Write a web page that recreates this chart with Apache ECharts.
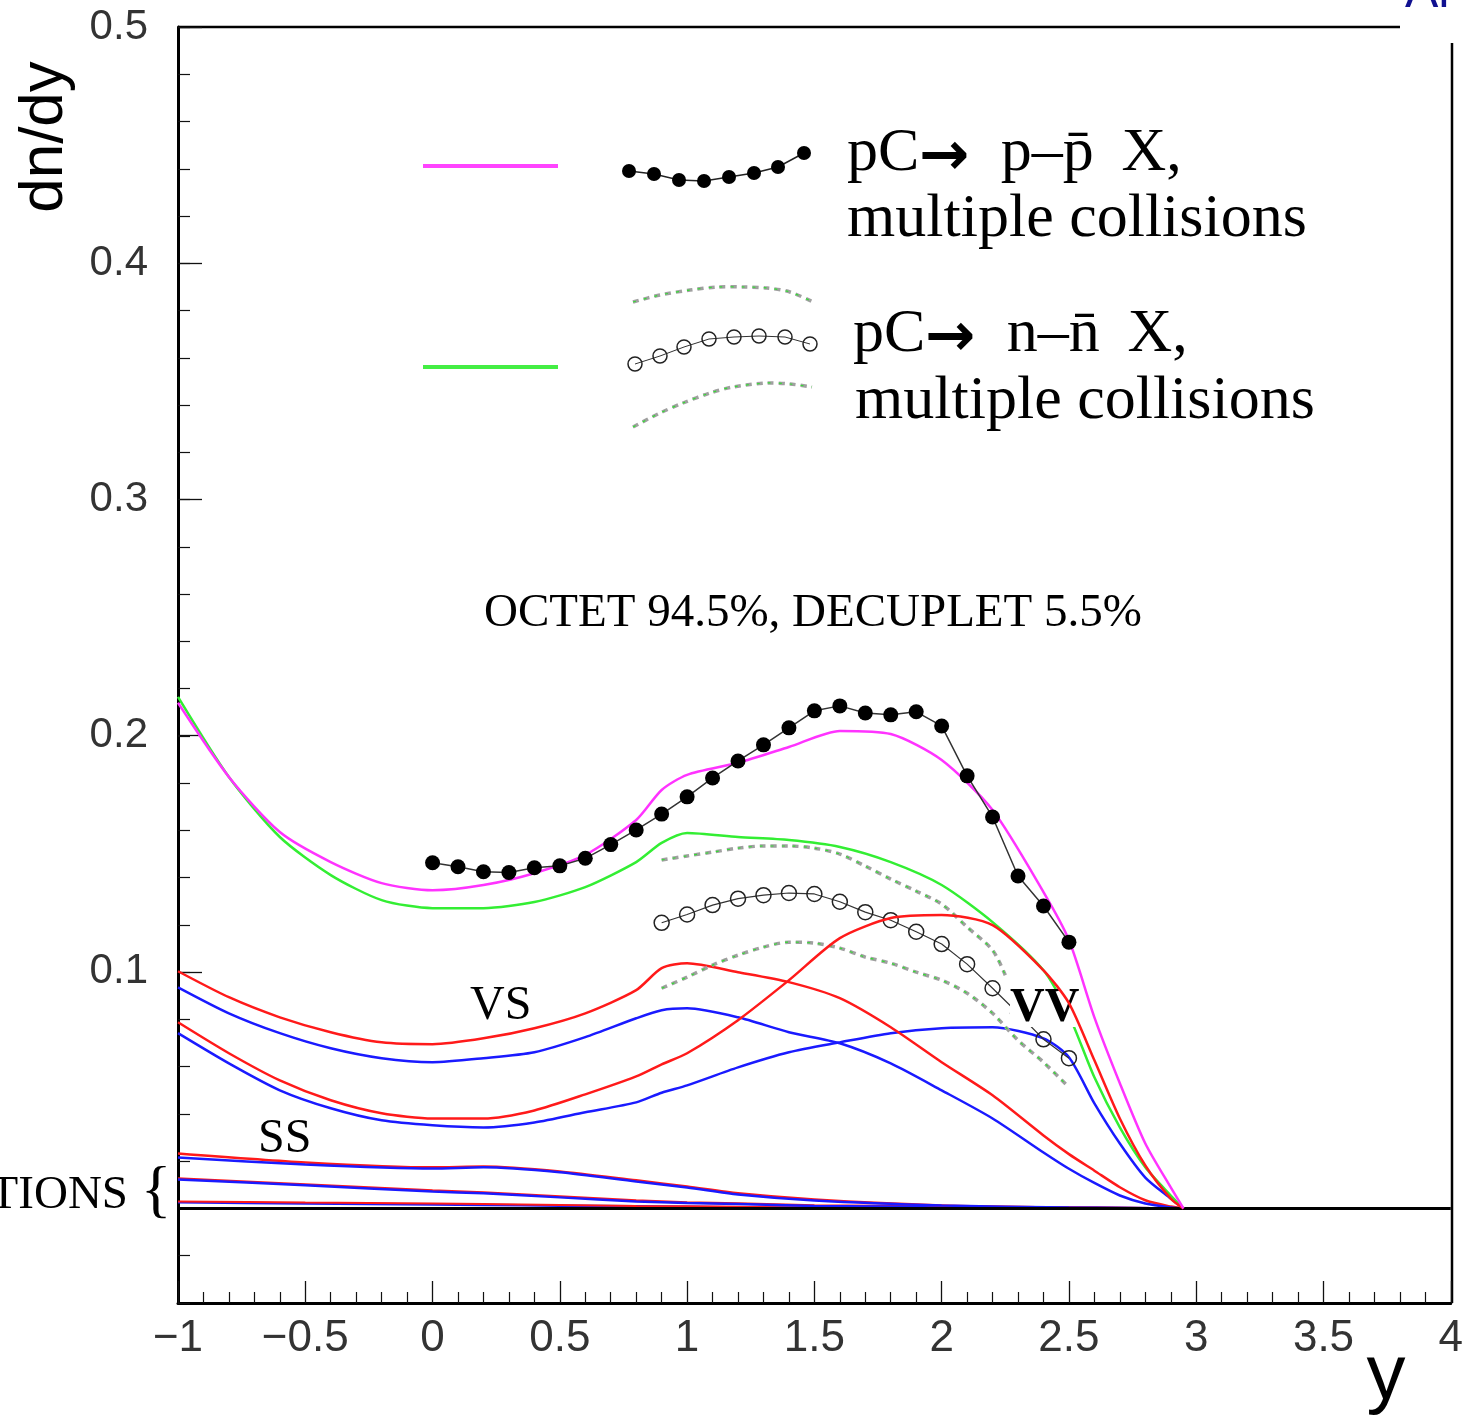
<!DOCTYPE html>
<html>
<head>
<meta charset="utf-8">
<title>dn/dy pC</title>
<script src="https://cdn.jsdelivr.net/npm/echarts@6/dist/echarts.min.js"></script>
<style>
  html, body { margin: 0; padding: 0; background: #fff; }
  #chart { width: 1466px; height: 1426px; }
</style>
</head>
<body>
<div id="chart"></div>
<script>
// model curves (rapidity grid)
const xModel = [-1, -0.8, -0.6, -0.4, -0.2, 0, 0.2, 0.4, 0.6, 0.8, 0.9, 1.0, 1.2, 1.4, 1.6, 1.8, 2.0, 2.2, 2.4, 2.5, 2.6, 2.7, 2.8, 2.9, 2.95];
// p-pbar total (magenta)
const totalP = [0.2140, 0.1826, 0.1593, 0.1466, 0.1377, 0.1347, 0.1369, 0.1419, 0.1496, 0.1644, 0.1771, 0.1835, 0.1886, 0.1953, 0.2021, 0.2008, 0.1898, 0.1686, 0.1339, 0.1136, 0.0809, 0.0530, 0.0275, 0.0089, 0];
// n-nbar total (green)
const totalN = [0.2165, 0.1826, 0.1572, 0.1411, 0.1305, 0.1271, 0.1271, 0.1297, 0.1360, 0.1466, 0.1547, 0.1589, 0.1572, 0.1559, 0.1530, 0.1466, 0.1369, 0.1212, 0.1008, 0.0818, 0.0555, 0.0343, 0.0174, 0.0055, 0];
// VS contributions
const vsRed = [0.1004, 0.0894, 0.0809, 0.0746, 0.0703, 0.0695, 0.0720, 0.0763, 0.0826, 0.0924, 0.1017, 0.1038, 0.1000, 0.0958, 0.0890, 0.0767, 0.0619, 0.0479, 0.0309, 0.0230, 0.0160, 0.0090, 0.0035, 0.0008, 0];
const vsBlue = [0.0936, 0.0826, 0.0742, 0.0678, 0.0636, 0.0619, 0.0636, 0.0661, 0.0725, 0.0805, 0.0839, 0.0847, 0.0809, 0.0746, 0.0699, 0.0614, 0.0500, 0.0381, 0.0237, 0.0168, 0.0108, 0.0055, 0.0021, 0.0004, 0];
// VV contributions
const vvRed = [0.0788, 0.0657, 0.0542, 0.0458, 0.0403, 0.0381, 0.0381, 0.0415, 0.0483, 0.0559, 0.0610, 0.0657, 0.0797, 0.0966, 0.1144, 0.1229, 0.1242, 0.1199, 0.1008, 0.0869, 0.0627, 0.0381, 0.0182, 0.0042, 0];
const vvBlue = [0.0742, 0.0614, 0.0500, 0.0424, 0.0373, 0.0352, 0.0343, 0.0364, 0.0407, 0.0449, 0.0490, 0.0521, 0.0597, 0.0661, 0.0703, 0.0742, 0.0763, 0.0767, 0.0720, 0.0640, 0.0445, 0.0275, 0.0131, 0.0042, 0];

// SS contributions (small, near zero)
const xSS = [-1, -0.5, 0, 0.2, 0.5, 0.8, 1.0, 1.2, 1.5, 2.0, 2.5, 2.95];
const ss1Red = [0.0233, 0.0195, 0.0174, 0.0178, 0.0157, 0.0119, 0.0093, 0.0064, 0.0038, 0.0013, 0.0004, 0];
const ss1Blue = [0.0216, 0.0186, 0.0169, 0.0174, 0.0153, 0.0114, 0.0089, 0.0059, 0.0034, 0.0013, 0.0004, 0];
const ss2Red = [0.0127, 0.0102, 0.0076, 0.0068, 0.0051, 0.0034, 0.0025, 0.0021, 0.0013, 0.0008, 0.0004, 0];
const ss2Blue = [0.0123, 0.0098, 0.0072, 0.0064, 0.0047, 0.0030, 0.0023, 0.0019, 0.0011, 0.0006, 0.0003, 0];
const ss3Red = [0.0030, 0.0025, 0.0021, 0.0019, 0.0015, 0.0011, 0.0009, 0.0007, 0.0004, 0.0002, 0.0001, 0];
const ss3Blue = [0.0026, 0.0021, 0.0017, 0.0015, 0.0012, 0.0009, 0.0007, 0.0005, 0.0003, 0.0002, 0.0001, 0];

// data points: p-pbar (filled)
const xPbar = [0, 0.1, 0.2, 0.3, 0.4, 0.5, 0.6, 0.7, 0.8, 0.9, 1.0, 1.1, 1.2, 1.3, 1.4, 1.5, 1.6, 1.7, 1.8, 1.9, 2.0, 2.1, 2.2, 2.3, 2.4, 2.5];
const pbar = [0.1463, 0.1446, 0.1425, 0.1422, 0.1442, 0.1450, 0.1482, 0.1540, 0.1602, 0.1669, 0.1742, 0.1822, 0.1894, 0.1962, 0.2034, 0.2106, 0.2127, 0.2097, 0.2089, 0.2102, 0.2042, 0.1831, 0.1657, 0.1407, 0.1280, 0.1127];
// data points: n-nbar (open) and its band
const xNbar = [0.9, 1.0, 1.1, 1.2, 1.3, 1.4, 1.5, 1.6, 1.7, 1.8, 1.9, 2.0, 2.1, 2.2, 2.3, 2.4, 2.5];
const nbar = [0.1209, 0.1244, 0.1284, 0.1311, 0.1326, 0.1335, 0.1331, 0.1298, 0.1254, 0.1220, 0.1171, 0.1119, 0.1034, 0.0932, 0.0826, 0.0716, 0.0636];
const xBandHi = [0.9, 1.0, 1.1, 1.2, 1.3, 1.4, 1.5, 1.6, 1.7, 1.8, 1.9, 2.0, 2.1, 2.2, 2.25];
const nbarHi = [0.1475, 0.1492, 0.1508, 0.1525, 0.1534, 0.1534, 0.1525, 0.1500, 0.1449, 0.1394, 0.1343, 0.1288, 0.1191, 0.1093, 0.0987];
const nbarLo = [0.0932, 0.0979, 0.1030, 0.1072, 0.1106, 0.1127, 0.1123, 0.1102, 0.1064, 0.1038, 0.1000, 0.0966, 0.0911, 0.0826, 0.0712, 0.0619, 0.0513];

const xTicks = { min: -1, max: 4, step: 0.5 };
const yTicks = [0.1, 0.2, 0.3, 0.4, 0.5];

const pair = (xs, ys) => xs.map((x, i) => [x, ys[i]]);
const SERIF = '"Liberation Serif", "DejaVu Serif", serif';
const SANS = '"Liberation Sans", Arial, sans-serif';

function curve(name, xs, ys, color, width, z) {
  return {
    name: name, type: 'line', data: pair(xs, ys), smooth: 0.25,
    symbol: 'none', lineStyle: { color: color, width: width || 2.5 }, z: z || 3
  };
}

const chart = echarts.init(document.getElementById('chart'));

// legend sample glyphs (layout only)
const legDots = [[629, 171], [654, 174], [679, 180], [704, 181], [729, 177], [754, 173], [778, 167], [804, 153]];
const legCircles = [[635, 364], [660, 356], [684, 347], [709, 339], [734, 337], [759, 336], [785, 337], [810, 344]];
const legHi = [[633, 302], [660, 295], [690, 290], [717, 287], [745, 287], [767, 288], [790, 292], [813, 302]];
const legLo = [[633, 427], [660, 413], [683, 403], [710, 393], [733, 387], [767, 383], [790, 384], [812, 387]];

const graphics = [
  { type: 'line', shape: { x1: 423, y1: 166, x2: 558, y2: 166 }, style: { stroke: '#ff44ff', lineWidth: 4 } },
  { type: 'line', shape: { x1: 423, y1: 367, x2: 558, y2: 367 }, style: { stroke: '#44ee44', lineWidth: 4 } },
  { type: 'polyline', shape: { points: legDots }, style: { stroke: '#222', lineWidth: 1.5, fill: null } },
  { type: 'polyline', shape: { points: legCircles }, style: { stroke: '#333', lineWidth: 1, fill: null } },
  { type: 'polyline', shape: { points: legHi, smooth: 0.3 }, style: { stroke: '#a0a0a0', lineWidth: 3.5, lineDash: [6, 5], fill: null } },
  { type: 'polyline', shape: { points: legHi, smooth: 0.3 }, style: { stroke: '#33dd33', lineWidth: 1.2, lineDash: [3, 8], fill: null } },
  { type: 'polyline', shape: { points: legLo, smooth: 0.3 }, style: { stroke: '#a0a0a0', lineWidth: 3.5, lineDash: [6, 5], fill: null } },
  { type: 'polyline', shape: { points: legLo, smooth: 0.3 }, style: { stroke: '#33dd33', lineWidth: 1.2, lineDash: [3, 8], fill: null } }
];
legDots.forEach(p => graphics.push({ type: 'circle', shape: { cx: p[0], cy: p[1], r: 7 }, style: { fill: '#000' } }));
legCircles.forEach(p => graphics.push({ type: 'circle', shape: { cx: p[0], cy: p[1], r: 7 }, style: { fill: null, stroke: '#222', lineWidth: 1.5 } }));

function txt(text, x, y, size, opts) {
  opts = opts || {};
  const style = {
    text: text, fill: opts.fill || '#000',
    font: (opts.weight || 'normal') + ' ' + size + 'px ' + (opts.family || SERIF),
    align: opts.align || 'left', verticalAlign: 'middle'
  };
  if (opts.rich) style.rich = opts.rich;
  if (opts.bg) { style.backgroundColor = opts.bg; style.padding = 0; style.lineHeight = opts.lh || size; }
  return { type: 'text', x: x, y: y, z: opts.z || 100, rotation: opts.rotation || 0, style: style };
}

// rich style for the bold arrow in the reaction labels
const arrowRich = { a: { font: 'bold 60px "DejaVu Sans", sans-serif', fill: '#000', padding: [8, 0, 0, 0] } };

graphics.push(
  txt('pC{a|\u2192}  p\u2013p\u0304 \u2009X,', 847, 154, 62, { rich: arrowRich }),
  txt('multiple collisions', 847, 220, 62),
  txt('pC{a|\u2192}  n\u2013n\u0304 \u2009X,', 853, 335, 62, { rich: arrowRich }),
  txt('multiple collisions', 855, 402, 62),
  txt('OCTET 94.5%, DECUPLET 5.5%', 484, 614, 47),
  txt('VS', 470, 1006, 48),
  // sits above the open circles but under the VV red curve
  txt('VV', 1010, 1009, 48, { weight: 'bold', bg: '#fff', lh: 36, z: 5.5 }),
  txt('SS', 258, 1139, 48),
  txt('TIONS', 128, 1196, 47, { align: 'right' }),
  txt('{', 156, 1193, 64, { align: 'center' }),
  txt('dn/dy', 45, 137, 62, { family: SANS, align: 'center', rotation: Math.PI / 2 }),
  txt('y', 1386, 1377, 78, { family: SANS, align: 'center' }),
  txt('Ar', 1405, -7, 50, { family: SANS, fill: '#101090' }),
  // frame: top and right edges
  { type: 'line', shape: { x1: 178, y1: 27, x2: 1400, y2: 27 }, style: { stroke: '#000', lineWidth: 2.5 } },
  { type: 'line', shape: { x1: 1452, y1: 43, x2: 1452, y2: 1303 }, style: { stroke: '#000', lineWidth: 2.5 } }
);

const option = {
  animation: false,
  backgroundColor: '#fff',
  grid: [
    { left: 178, right: 14, top: 27, bottom: 123 },
    { left: 178, right: 14, top: 27, bottom: 218 }
  ],
  xAxis: [
    {
      type: 'value', gridIndex: 0, min: xTicks.min, max: xTicks.max, interval: xTicks.step,
      axisLine: { onZero: false, lineStyle: { color: '#000', width: 3 } },
      axisTick: { inside: true, length: 22, lineStyle: { color: '#111', width: 1.3 } },
      minorTick: { show: true, splitNumber: 5, length: 11, lineStyle: { color: '#111', width: 1.2 } },
      axisLabel: {
        margin: 14, color: '#333', fontSize: 44, fontFamily: SANS,
        formatter: v => String(v).replace('-', '\u2212')
      },
      splitLine: { show: false }
    },
    { type: 'value', gridIndex: 1, min: xTicks.min, max: xTicks.max, show: false, axisLine: { onZero: false } }
  ],
  yAxis: [
    {
      type: 'value', gridIndex: 0, min: -0.04, max: 0.5, interval: 0.02,
      axisLine: { onZero: false, lineStyle: { color: '#000', width: 3 } },
      axisTick: { inside: true, length: 12, lineStyle: { color: '#111', width: 1.2 } },
      axisLabel: { show: false },
      splitLine: { show: false }
    },
    {
      type: 'value', gridIndex: 1, min: 0, max: 0.5, interval: 0.1,
      axisLine: { show: false, onZero: false },
      axisTick: { show: true, inside: true, length: 24, lineStyle: { color: '#111', width: 1.3 } },
      axisLabel: {
        margin: 30, color: '#333', fontSize: 42, fontFamily: SANS,
        formatter: v => (yTicks.indexOf(+v.toFixed(1)) >= 0 ? v.toFixed(1) : '')
      },
      splitLine: { show: false }
    }
  ],
  series: [
    curve('SS3 blue', xSS, ss3Blue, '#1a1aff', 2.5),
    curve('SS3 red', xSS, ss3Red, '#ff1a1a', 2),
    curve('SS2 red', xSS, ss2Red, '#ff1a1a', 2.5),
    curve('SS2 blue', xSS, ss2Blue, '#1a1aff', 2.5),
    curve('SS1 red', xSS, ss1Red, '#ff1a1a', 2.5),
    curve('SS1 blue', xSS, ss1Blue, '#1a1aff', 2.5),
    curve('VV red', xModel, vvRed, '#ff1a1a', 2.5, 6),
    curve('VV blue', xModel, vvBlue, '#1a1aff'),
    curve('VS red', xModel, vsRed, '#ff1a1a'),
    curve('VS blue', xModel, vsBlue, '#1a1aff'),
    curve('n total', xModel, totalN, '#33ee33'),
    Object.assign(curve('p total', xModel, totalP, '#ff33ff', 2.5, 6), {
      markLine: {
        silent: true, symbol: 'none', label: { show: false },
        lineStyle: { color: '#000', width: 3, type: 'solid' },
        data: [{ yAxis: 0 }]
      }
    }),
    {
      name: 'nbar hi', type: 'line', data: pair(xBandHi, nbarHi), smooth: 0.3, symbol: 'none', z: 4,
      lineStyle: { color: '#a0a0a0', width: 3.5, type: [6, 5] }
    },
    {
      name: 'nbar hi g', type: 'line', data: pair(xBandHi, nbarHi), smooth: 0.3, symbol: 'none', z: 4,
      lineStyle: { color: '#33dd33', width: 1.2, type: [3, 8] }
    },
    {
      name: 'nbar lo', type: 'line', data: pair(xNbar, nbarLo), smooth: 0.3, symbol: 'none', z: 4,
      lineStyle: { color: '#a0a0a0', width: 3.5, type: [6, 5] }
    },
    {
      name: 'nbar lo g', type: 'line', data: pair(xNbar, nbarLo), smooth: 0.3, symbol: 'none', z: 4,
      lineStyle: { color: '#33dd33', width: 1.2, type: [3, 8] }
    },
    {
      name: 'n-nbar data', type: 'line', data: pair(xNbar, nbar), z: 5,
      symbol: 'circle', symbolSize: 15,
      itemStyle: { color: 'rgba(0,0,0,0)', borderColor: '#222', borderWidth: 1.5 },
      lineStyle: { color: '#333', width: 1.2 }
    },
    {
      name: 'p-pbar data', type: 'line', data: pair(xPbar, pbar), z: 7,
      symbol: 'circle', symbolSize: 15,
      itemStyle: { color: '#000' },
      lineStyle: { color: '#333', width: 1.5 }
    }
  ],
  graphic: graphics
};

chart.setOption(option);
</script>
</body>
</html>
